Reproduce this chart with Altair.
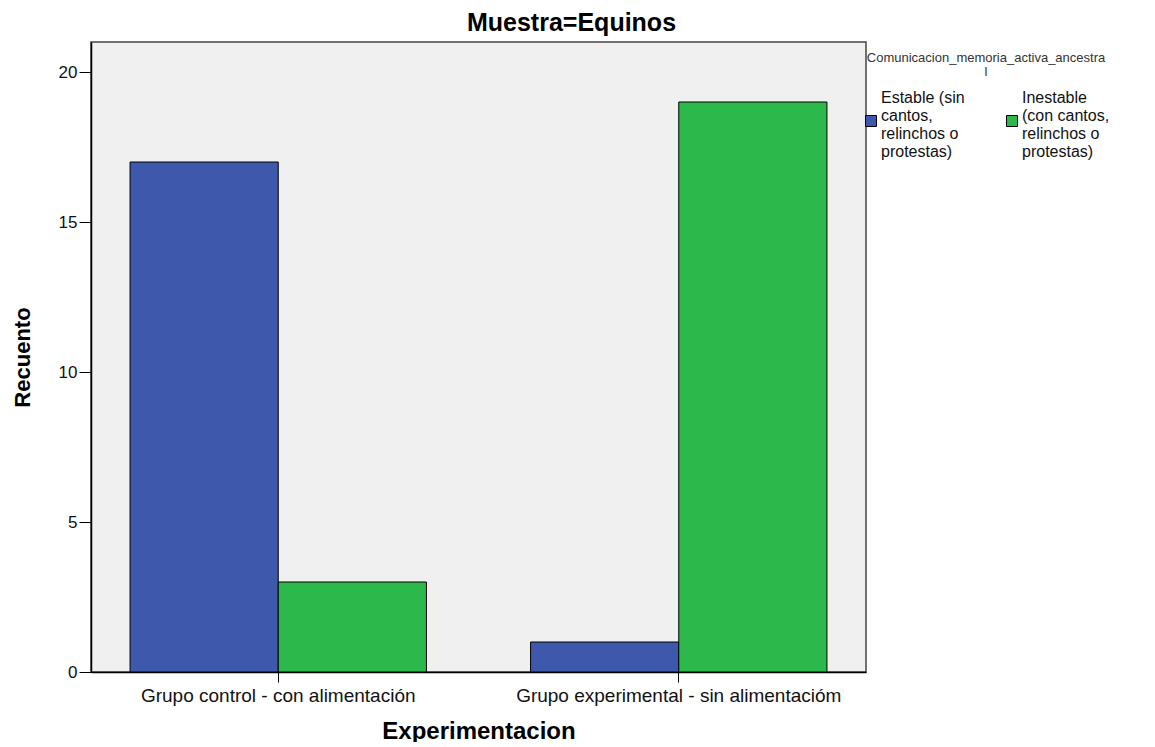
import json
import altair as alt
import pandas as pd

groups = ["Grupo control - con alimentación", "Grupo experimental - sin alimentacióm"]
states = ["Estable (sin cantos, relinchos o protestas)", "Inestable (con cantos, relinchos o protestas)"]
state_lines = [["Estable (sin", "cantos,", "relinchos o", "protestas)"],
               ["Inestable", "(con cantos,", "relinchos o", "protestas)"]]
counts_estable = [17, 1]
counts_inestable = [3, 19]
colors = ["#3E58AC", "#2DB84B"]

rows = []
for g, e, i in zip(groups, counts_estable, counts_inestable):
    rows.append({"Experimentacion": g, "Estado": states[0], "Recuento": e})
    rows.append({"Experimentacion": g, "Estado": states[1], "Recuento": i})
df = pd.DataFrame(rows)

label_expr = "datum.label == {} ? {} : {}".format(
    json.dumps(states[0]), json.dumps(state_lines[0]), json.dumps(state_lines[1]))

# square symbol drawn lower so it sits beside the middle of the 4-line label
SYMBOL = "M-1,3.18H1V5.18H-1Z"

FONT = "Liberation Sans"

chart = alt.Chart(df).mark_bar(stroke="black", strokeWidth=1).encode(
    x=alt.X("Experimentacion:N", sort=groups,
            scale=alt.Scale(paddingInner=0.26, paddingOuter=0.0975),
            axis=alt.Axis(title="Experimentacion", labelAngle=0, labelFontSize=19,
                          labelColor="#111", labelPadding=4, tickSize=10,
                          tickColor="black", domainColor="black", domainWidth=1.5,
                          titleFontSize=24, titleFontWeight="bold", titleColor="black",
                          titleY=59, titleBaseline="middle", labelLimit=0)),
    xOffset=alt.XOffset("Estado:N", sort=states,
                        scale=alt.Scale(paddingInner=0, paddingOuter=0)),
    y=alt.Y("Recuento:Q", scale=alt.Scale(domain=[0, 21], nice=False),
            axis=alt.Axis(title="Recuento", values=[0, 5, 10, 15, 20], grid=False,
                          labelFontSize=17, labelColor="#111", tickSize=12,
                          labelPadding=2, tickColor="black", domainColor="black",
                          domainWidth=1.5, titleFontSize=22, titleFontWeight="bold",
                          titleColor="black", titleX=-69, titleY=315,
                          titleBaseline="middle")),
    color=alt.Color("Estado:N", sort=states,
                    scale=alt.Scale(domain=states, range=colors),
                    legend=alt.Legend(
                        title=["Comunicacion_memoria_activa_ancestra", "l"],
                        titleFontSize=13, titleFontWeight="normal", titleColor="#333",
                        titleAnchor="middle", titleAlign="center", titlePadding=11,
                        titleLineHeight=14, titleLimit=0,
                        orient="none", legendX=772, legendY=10,
                        direction="horizontal", columns=2, columnPadding=39,
                        symbolType=SYMBOL, symbolSize=121,
                        symbolStrokeColor="black", symbolStrokeWidth=1,
                        labelFontSize=16, labelColor="#111",
                        labelOffset=2, labelLimit=0,
                        labelExpr=label_expr)),
).properties(
    width=775, height=630,
    title=alt.TitleParams("Muestra=Equinos", fontSize=25, fontWeight="bold",
                          color="black", anchor="middle", dx=93, offset=6),
    padding={"left": 83, "top": 34, "right": 280, "bottom": 70},
    autosize=alt.AutoSizeParams(type="none"),
).configure(font=FONT).configure_view(
    fill="#F0F0F0", stroke="#444", strokeWidth=1.5
)

chart.save("out.html", embed_options={"renderer": "svg", "actions": False})
